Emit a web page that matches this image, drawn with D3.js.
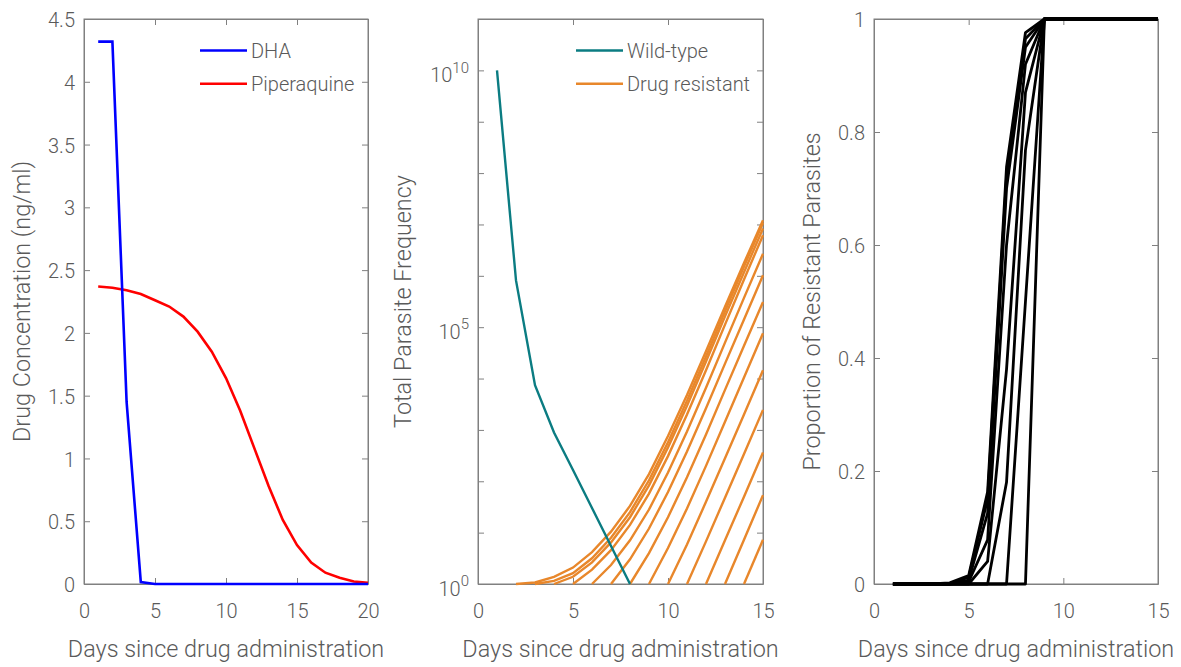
<!DOCTYPE html>
<html>
<head>
<meta charset="utf-8">
<script src="https://cdn.jsdelivr.net/npm/d3@7"></script>
<style>
  body { margin: 0; background: #fff; }
  svg text { font-family: Roboto, "Noto Sans", sans-serif; font-weight: 300; fill: #5a5a5a; }
  .axis path, .axis line { stroke: #808080; stroke-width: 1; }
</style>
</head>
<body>
<svg id="chart" width="1181" height="667"></svg>
<script>
// ---------- Drug concentrations ----------
const concDays = [1, 2, 3, 4, 5, 6, 7, 8, 9, 10, 11, 12, 13, 14, 15, 16, 17, 18, 19, 20];
const dhaConc = [4.32, 4.32, 1.45, 0.015, 0, 0, 0, 0, 0, 0, 0, 0, 0, 0, 0, 0, 0, 0, 0, 0];
const piperaquineConc = [2.37, 2.36, 2.34, 2.31, 2.26, 2.21, 2.13, 2.01, 1.85, 1.64, 1.38, 1.08, 0.78, 0.51, 0.31, 0.17, 0.09, 0.05, 0.02, 0.01];
const concXTicks = [0, 5, 10, 15, 20];
const concYTicks = [0, 0.5, 1, 1.5, 2, 2.5, 3, 3.5, 4, 4.5];

// ---------- Parasite frequencies (log10 counts) ----------
const wildDays = [1, 2, 3, 4, 5, 6, 7, 8];
const wildTypeLog10 = [10, 5.91, 3.87, 2.95, 2.22, 1.48, 0.74, 0];
const resistantStartDays = [2, 3, 4, 5, 6, 7, 8, 9, 10, 11, 12, 13, 14];
const resistantLog10 = [
  [0, 0.03, 0.14, 0.32, 0.62, 1.02, 1.52, 2.14, 2.88, 3.68, 4.53, 5.40, 6.25, 7.08],
  [0, 0.06, 0.21, 0.50, 0.90, 1.40, 2.02, 2.76, 3.57, 4.43, 5.31, 6.18, 7.03],
  [0, 0.14, 0.42, 0.81, 1.30, 1.92, 2.66, 3.47, 4.33, 5.21, 6.07, 6.92],
  [0, 0.28, 0.66, 1.15, 1.76, 2.49, 3.30, 4.16, 5.05, 5.93, 6.79],
  [0, 0.37, 0.85, 1.45, 2.17, 2.97, 3.82, 4.70, 5.57, 6.43],
  [0, 0.48, 1.08, 1.79, 2.58, 3.42, 4.29, 5.15, 6.01],
  [0, 0.60, 1.30, 2.08, 2.91, 3.78, 4.64, 5.49],
  [0, 0.70, 1.47, 2.30, 3.16, 4.02, 4.88],
  [0, 0.77, 1.60, 2.45, 3.30, 4.16],
  [0, 0.83, 1.68, 2.53, 3.39],
  [0, 0.85, 1.70, 2.56],
  [0, 0.86, 1.73],
  [0, 0.86]
];
const freqXTicks = [0, 5, 10, 15];
const freqYTickExps = [0, 1, 2, 3, 4, 5, 6, 7, 8, 9, 10, 11];
const freqYLabelExps = [0, 5, 10];

// ---------- Proportion of resistant parasites ----------
const propDays = [1, 2, 3, 4, 5, 6, 7, 8, 9, 10, 11, 12, 13, 14, 15];
const resistantProportion = [
  [0, 0, 0, 0.002, 0.015, 0.163, 0.738, 0.976, 1, 1, 1, 1, 1, 1, 1],
  [0, 0, 0, 0, 0.012, 0.150, 0.720, 0.965, 1, 1, 1, 1, 1, 1, 1],
  [0, 0, 0, 0, 0.007, 0.125, 0.700, 0.950, 1, 1, 1, 1, 1, 1, 1],
  [0, 0, 0, 0, 0.004, 0.078, 0.600, 0.920, 1, 1, 1, 1, 1, 1, 1],
  [0, 0, 0, 0, 0, 0.040, 0.380, 0.870, 1, 1, 1, 1, 1, 1, 1],
  [0, 0, 0, 0, 0, 0, 0.180, 0.768, 1, 1, 1, 1, 1, 1, 1],
  [0, 0, 0, 0, 0, 0, 0, 0.500, 1, 1, 1, 1, 1, 1, 1],
  [0, 0, 0, 0, 0, 0, 0, 0, 1, 1, 1, 1, 1, 1, 1]
];
const propXTicks = [0, 5, 10, 15];
const propYTicks = [0, 0.2, 0.4, 0.6, 0.8, 1];

const xTitle = "Days since drug administration";

// ---------- Layout ----------
const svg = d3.select("#chart");
const plotTop = 19, plotBottom = 584, tickLen = 6;
const panels = [
  { x0: 84, x1: 368, ylabelX: 22 },
  { x0: 478, x1: 763, ylabelX: 403 },
  { x0: 874, x1: 1158, ylabelX: 812 }
];

function drawFrame(p, x, y, xTicks, yTicks, yFormat, yTitle) {
  const g = svg.append("g");
  g.append("rect")
    .attr("x", p.x0).attr("y", plotTop)
    .attr("width", p.x1 - p.x0).attr("height", plotBottom - plotTop)
    .attr("fill", "none").attr("stroke", "#808080");

  const bx = g.append("g").attr("class", "axis").attr("transform", `translate(0,${plotBottom})`)
    .call(d3.axisBottom(x).tickValues(xTicks).tickSize(-tickLen).tickSizeOuter(0).tickPadding(20));
  bx.selectAll("text").attr("font-size", 20).attr("dy", "0.71em");

  g.append("g").attr("class", "axis").attr("transform", `translate(0,${plotTop})`)
    .call(d3.axisTop(x).tickValues(xTicks).tickSize(-tickLen).tickSizeOuter(0).tickFormat(""));

  const ly = g.append("g").attr("class", "axis y-left").attr("transform", `translate(${p.x0},0)`)
    .call(d3.axisLeft(y).tickValues(yTicks).tickSize(-tickLen).tickSizeOuter(0).tickPadding(9).tickFormat(yFormat));
  ly.selectAll("text").attr("font-size", 20).attr("dy", "0.38em");

  g.append("g").attr("class", "axis").attr("transform", `translate(${p.x1},0)`)
    .call(d3.axisRight(y).tickValues(yTicks).tickSize(-tickLen).tickSizeOuter(0).tickFormat(""));

  svg.append("text")
    .attr("x", (p.x0 + p.x1) / 2).attr("y", 657)
    .attr("text-anchor", "middle").attr("font-size", 23.4)
    .text(xTitle);

  svg.append("text")
    .attr("transform", `translate(${p.ylabelX},${(plotTop + plotBottom) / 2}) rotate(-90)`)
    .attr("text-anchor", "middle").attr("dy", "0.35em").attr("font-size", 23.4)
    .text(yTitle);
  return ly;
}

function legend(x0, entries) {
  entries.forEach((e, i) => {
    const yy = 50.5 + i * 33.2;
    svg.append("line").attr("x1", x0).attr("x2", x0 + 47).attr("y1", yy).attr("y2", yy)
      .attr("stroke", e.color).attr("stroke-width", 2.5);
    svg.append("text").attr("x", x0 + 51).attr("y", yy).attr("dy", "0.36em")
      .attr("font-size", 20).text(e.label);
  });
}

// ---------- Panel 1: drug concentration ----------
{
  const p = panels[0];
  const x = d3.scaleLinear().domain([0, 20]).range([p.x0, p.x1]);
  const y = d3.scaleLinear().domain([0, 4.5]).range([plotBottom, plotTop]);
  drawFrame(p, x, y, concXTicks, concYTicks, d3.format(""), "Drug Concentration (ng/ml)");
  const line = d3.line().x(d => x(d[0])).y(d => y(d[1]));
  svg.append("path").datum(d3.zip(concDays, piperaquineConc))
    .attr("d", line).attr("fill", "none").attr("stroke", "#ff0000").attr("stroke-width", 2.6);
  svg.append("path").datum(d3.zip(concDays, dhaConc))
    .attr("d", line).attr("fill", "none").attr("stroke", "#0000ff").attr("stroke-width", 2.6);
  legend(200, [{ label: "DHA", color: "#0000ff" }, { label: "Piperaquine", color: "#ff0000" }]);
}

// ---------- Panel 2: total parasite frequency ----------
{
  const p = panels[1];
  const x = d3.scaleLinear().domain([0, 15]).range([p.x0, p.x1]);
  const y = d3.scaleLog().domain([1, 1e11]).range([plotBottom, plotTop]);
  const tickVals = freqYTickExps.map(e => Math.pow(10, e));
  const leftAxis = drawFrame(p, x, y, freqXTicks, tickVals, () => "", "Total Parasite Frequency");
  // power-of-ten labels with superscript exponents on the left axis
  leftAxis.selectAll(".tick").filter(d => freqYLabelExps.includes(Math.round(Math.log10(d))))
    .select("text")
    .each(function (d) {
      const t = d3.select(this).text(null).attr("dy", "0.55em");
      t.append("tspan").text("10");
      t.append("tspan").attr("font-size", 15).attr("dy", "-0.62em").text(String(Math.round(Math.log10(d))));
    });

  const line = d3.line().x(d => x(d[0])).y(d => y(Math.pow(10, d[1])));
  const orange = "#e8872b";
  resistantLog10.forEach((vals, i) => {
    const s = resistantStartDays[i];
    const pts = vals.map((v, k) => [s + k, v]);
    svg.append("path").datum(pts).attr("d", line)
      .attr("fill", "none").attr("stroke", orange).attr("stroke-width", 2.4);
  });
  svg.append("path").datum(d3.zip(wildDays, wildTypeLog10)).attr("d", line)
    .attr("fill", "none").attr("stroke", "#0b7c82").attr("stroke-width", 2.4);
  legend(576, [{ label: "Wild-type", color: "#0b7c82" }, { label: "Drug resistant", color: orange }]);
}

// ---------- Panel 3: proportion of resistant parasites ----------
{
  const p = panels[2];
  const x = d3.scaleLinear().domain([0, 15]).range([p.x0, p.x1]);
  const y = d3.scaleLinear().domain([0, 1]).range([plotBottom, plotTop]);
  drawFrame(p, x, y, propXTicks, propYTicks, d3.format(""), "Proportion of Resistant Parasites");
  const line = d3.line().x(d => x(d[0])).y(d => y(d[1]));
  resistantProportion.forEach(vals => {
    svg.append("path").datum(d3.zip(propDays, vals)).attr("d", line)
      .attr("fill", "none").attr("stroke", "#000").attr("stroke-width", 2.8)
      .attr("stroke-linejoin", "round");
  });
}
</script>
</body>
</html>
